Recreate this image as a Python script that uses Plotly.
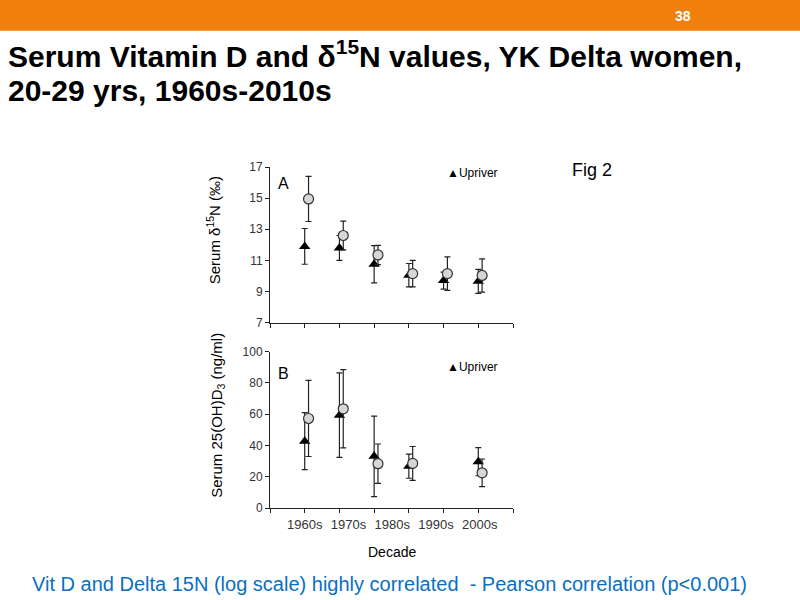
import plotly.graph_objects as go

# ---- data ----
slots = [1, 2, 3, 4, 5, 6]
tick_labels = ["1960s", "1970s", "1980s", "1990s", "2000s"]

# Panel A: serum d15N
a_up_x = [1, 2, 3, 4, 5, 6]
a_up_y = [11.9, 11.8, 10.75, 10.05, 9.7, 9.65]
a_up_err = [1.15, 0.8, 1.2, 0.75, 0.55, 0.77]
a_other_x = [1, 2, 3, 4, 5, 6]
a_other_y = [14.95, 12.6, 11.35, 10.15, 10.15, 10.03]
a_other_err = [1.45, 0.92, 0.62, 0.85, 1.08, 1.07]

# Panel B: serum 25(OH)D3
b_up_x = [1, 2, 3, 4, 6]
b_up_y = [42.8, 59.4, 33.1, 26.8, 29.7]
b_up_err = [18.2, 27.0, 25.7, 7.7, 9.0]
b_other_x = [1, 2, 3, 4, 6]
b_other_y = [57.3, 63.5, 28.4, 28.6, 22.6]
b_other_err = [24.3, 25.0, 12.6, 10.8, 8.8]

circle_offset = 0.11

# vertical mapping from target pixel rows to paper fraction
TOP, SPAN = 7.4, 584.2


def py(y):
    return 1 - (y - TOP) / SPAN


fig = go.Figure()

tri = dict(symbol="triangle-up", size=10, color="black")
circ = dict(symbol="circle", size=10, color="#d6d6d6", line=dict(color="#333333", width=1.2))
err_style = dict(type="data", color="#222222", thickness=1.2, width=3)

fig.add_trace(go.Scatter(x=a_up_x, y=a_up_y, mode="markers", marker=tri,
                         error_y=dict(array=a_up_err, **err_style), xaxis="x", yaxis="y", showlegend=False))
fig.add_trace(go.Scatter(x=[v + circle_offset for v in a_other_x], y=a_other_y, mode="markers", marker=circ,
                         error_y=dict(array=a_other_err, **err_style), xaxis="x", yaxis="y", showlegend=False))
fig.add_trace(go.Scatter(x=b_up_x, y=b_up_y, mode="markers", marker=tri,
                         error_y=dict(array=b_up_err, **err_style), xaxis="x2", yaxis="y2", showlegend=False))
fig.add_trace(go.Scatter(x=[v + circle_offset for v in b_other_x], y=b_other_y, mode="markers", marker=circ,
                         error_y=dict(array=b_other_err, **err_style), xaxis="x2", yaxis="y2", showlegend=False))

SANS = "Liberation Sans, Arial, sans-serif"
xdom = [270 / 800, 513 / 800]
xcommon = dict(domain=xdom, range=[0, 7], showgrid=False, zeroline=False, showline=True,
               linecolor="#222222", linewidth=1, ticks="outside", ticklen=4, tickcolor="#222222",
               tickvals=[0, 1, 2, 3, 4, 5, 6, 7], tickangle=0, fixedrange=True, showticklabels=False)
ycommon = dict(showgrid=False, zeroline=False, showline=True, linecolor="#222222", linewidth=1,
               ticks="outside", ticklen=4, tickcolor="#222222",
               tickfont=dict(family=SANS, size=12, color="#333333"))

label_pos = [1 + 1.26 * i for i in range(len(tick_labels))]

fig.update_layout(
    width=800, height=600, margin=dict(l=0, r=0, t=0, b=0),
    paper_bgcolor="white", plot_bgcolor="white",
    xaxis=dict(**xcommon, anchor="y"),
    yaxis=dict(**ycommon, domain=[py(322), py(167)], range=[7, 17],
               tickvals=[7, 9, 11, 13, 15, 17], anchor="x"),
    xaxis2=dict(**xcommon, anchor="y2"),
    yaxis2=dict(**ycommon, domain=[py(507), py(351)], range=[0, 100],
                tickvals=[0, 20, 40, 60, 80, 100], anchor="x2"),
    xaxis3=dict(domain=xdom, range=[0, 7], overlaying="x2", anchor="y2", showgrid=False, zeroline=False,
                showline=False, ticks="outside", ticklen=4, tickcolor="rgba(0,0,0,0)",
                tickvals=label_pos, ticktext=tick_labels, tickangle=0, fixedrange=True,
                tickfont=dict(family=SANS, size=13, color="#333333")),
)
# dummy trace so xaxis3 is drawn
fig.add_trace(go.Scatter(x=[None], y=[None], xaxis="x3", yaxis="y2", showlegend=False, hoverinfo="skip"))

# orange header bar
fig.add_shape(type="rect", xref="paper", yref="paper", x0=-0.02, x1=1.02, y0=py(31), y1=1.05,
              fillcolor="#f07f0b", line=dict(width=0), layer="below")


def ann(x, y, text, size, color="black", xanchor="center", bold=False, angle=0, family=SANS):
    if bold:
        text = "<b>" + text + "</b>"
    return dict(x=x / 800, y=py(y), xref="paper", yref="paper", text=text, showarrow=False,
                xanchor=xanchor, yanchor="middle", textangle=angle, align="left",
                font=dict(family=family, size=size, color=color))


anns = [
    ann(683, 16, "38", 14, color="white", bold=True),
    ann(6, 54, "Serum Vitamin D and δ<sup>15</sup>N values, YK Delta women,", 30, xanchor="left", bold=True),
    ann(6, 91, "20-29 yrs, 1960s-2010s", 30, xanchor="left", bold=True),
    ann(592, 170, "Fig 2", 18),
    ann(283, 183, "A", 16),
    ann(283, 373, "B", 16),
    ann(445, 173, "▲Upriver", 12, xanchor="left"),
    ann(445, 366, "▲Upriver", 12, xanchor="left"),
    ann(213, 230, "Serum δ<sup>15</sup>N (‰)", 15, angle=-90),
    ann(218, 415, "Serum 25(OH)D<sub>3</sub> (ng/ml)", 15, angle=-90),
    ann(392, 551, "Decade", 14),
    ann(389, 583, "Vit D and Delta 15N (log scale) highly correlated&nbsp; - Pearson correlation (p<0.001)",
        20, color="#0a6fc2"),
]
fig.update_layout(annotations=anns)

fig.write_html("out.html")
